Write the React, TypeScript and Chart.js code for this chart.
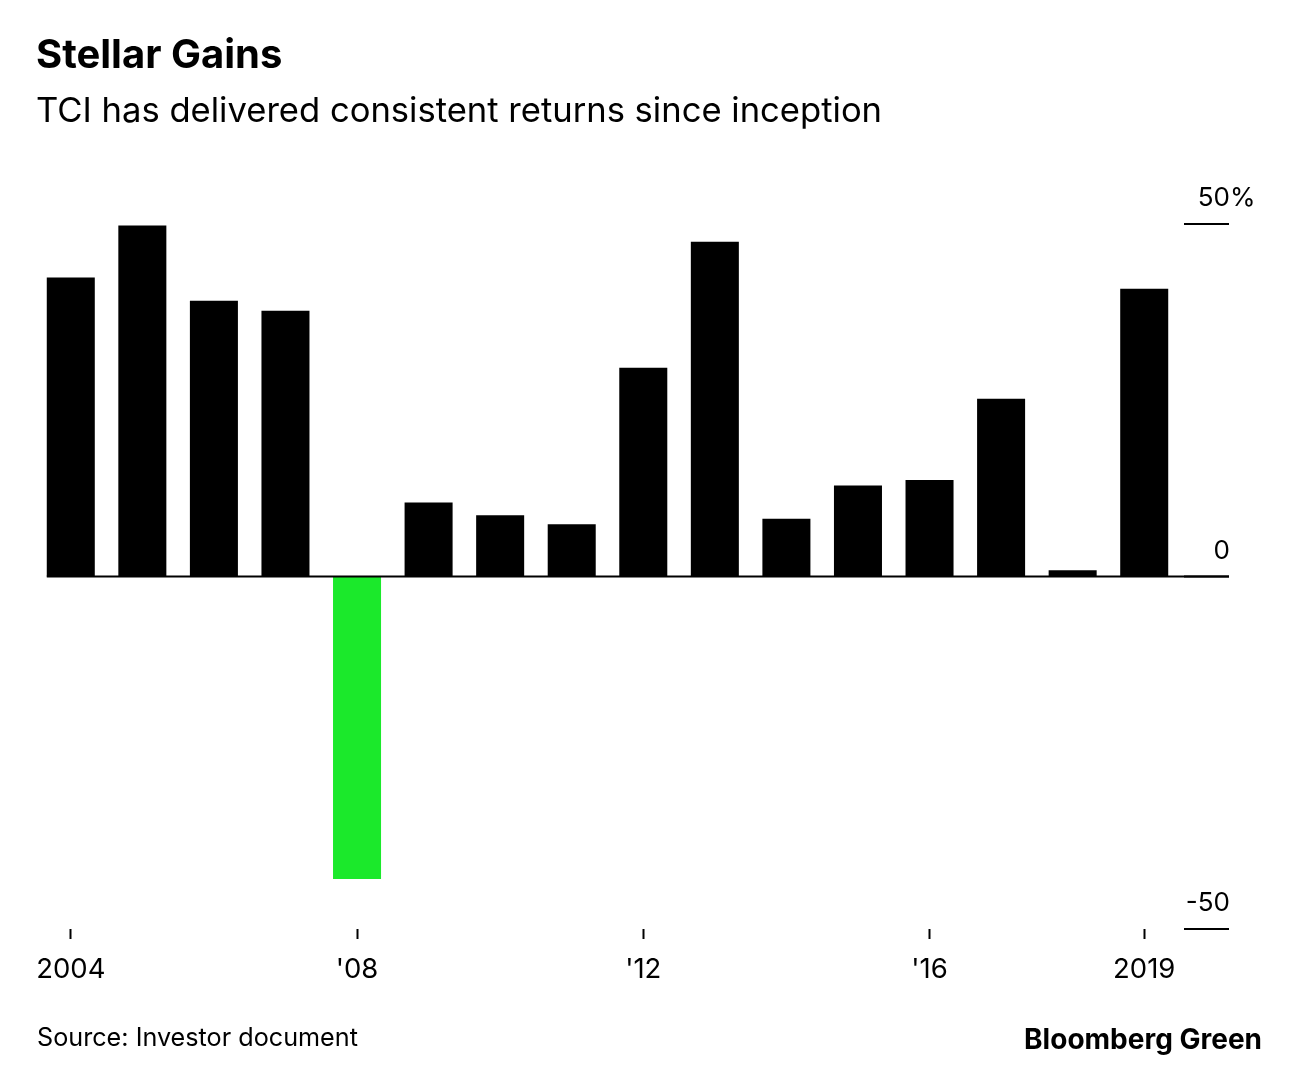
import React, { useEffect, useRef } from 'react';
import { Chart, registerables } from 'chart.js';

Chart.register(...registerables);

// ---- data ----
const years: string[] = [
  '2004', '2005', '2006', '2007', '2008', '2009', '2010', '2011',
  '2012', '2013', '2014', '2015', '2016', '2017', '2018', '2019',
];
const annualReturns: number[] = [
  42.4, 49.8, 39.1, 37.7, -42.9, 10.5, 8.7, 7.4,
  29.6, 47.5, 8.2, 12.9, 13.7, 25.2, 0.9, 40.8,
];
const xTickLabels: Record<string, string> = {
  '2004': '2004',
  '2008': "'08",
  '2012': "'12",
  '2016': "'16",
  '2019': '2019',
};
const yTickValues: number[] = [50, 0, -50];
const yTickNumbers: string[] = ['50', '0', '-50'];
const yTickSuffixes: string[] = ['%', '', ''];

const FONT = 'Inter, "Liberation Sans", Arial, sans-serif';
const POS_COLOR = '#000000';
const NEG_COLOR = '#1BE92B';

const axisPlugin = {
  id: 'bbgAxis',
  afterDatasetsDraw(chart: any) {
    const { ctx, chartArea, scales } = chart;
    const y = scales.y;
    const meta = chart.getDatasetMeta(0);
    const first: any = meta.data[0];
    const left = first.x - first.width / 2;
    const tickStart = chartArea.right + 4;
    const tickEnd = chartArea.right + 49;
    ctx.save();
    ctx.fillStyle = '#000';
    // zero baseline
    const y0 = y.getPixelForValue(0);
    ctx.fillRect(left, y0 - 1, tickEnd - left, 2);
    // right-hand ticks and labels
    ctx.font = `26px ${FONT}`;
    ctx.textBaseline = 'alphabetic';
    yTickValues.forEach((v, i) => {
      const py = y.getPixelForValue(v);
      ctx.fillRect(tickStart, py - 1, tickEnd - tickStart, 2);
      ctx.textAlign = 'right';
      ctx.fillText(yTickNumbers[i], tickEnd + 1, py - 18);
      if (yTickSuffixes[i]) {
        ctx.textAlign = 'left';
        ctx.fillText(yTickSuffixes[i], tickEnd + 1, py - 18);
      }
    });
    ctx.restore();
  },
};

export default function App() {
  const canvasRef = useRef<HTMLCanvasElement | null>(null);

  useEffect(() => {
    const canvas = canvasRef.current;
    if (!canvas) return;
    const chart = new Chart(canvas, {
      type: 'bar',
      data: {
        labels: years,
        datasets: [
          {
            data: annualReturns,
            backgroundColor: annualReturns.map((v) => (v < 0 ? NEG_COLOR : POS_COLOR)),
            borderWidth: 0,
            barPercentage: 1,
            categoryPercentage: 0.671,
          },
        ],
      },
      options: {
        responsive: false,
        animation: false,
        devicePixelRatio: 1,
        layout: { padding: { left: 35, right: 111, top: 224, bottom: 68 } },
        plugins: {
          legend: { display: false },
          tooltip: { enabled: false },
          title: { display: false },
        },
        scales: {
          x: {
            offset: true,
            border: { display: false },
            grid: {
              drawOnChartArea: false,
              drawTicks: true,
              offset: false,
              tickLength: 10,
              tickWidth: 2,
              tickColor: (c: any) =>
                c.tick && xTickLabels[years[c.index]] ? '#000' : 'rgba(0,0,0,0)',
            },
            ticks: {
              autoSkip: false,
              maxRotation: 0,
              minRotation: 0,
              padding: 14,
              color: '#000',
              font: { family: FONT, size: 27.5 },
              callback: (_v: any, i: number) => xTickLabels[years[i]] ?? '',
            },
          },
          y: {
            display: false,
            min: -50,
            max: 50,
          },
        },
      },
      plugins: [axisPlugin],
    });
    return () => chart.destroy();
  }, []);

  const base: React.CSSProperties = {
    position: 'absolute',
    margin: 0,
    color: '#000',
    fontFamily: FONT,
    whiteSpace: 'nowrap',
  };

  return (
    <div
      style={{
        position: 'absolute',
        left: 0,
        top: 0,
        width: 1291,
        height: 1068,
        background: '#fff',
        overflow: 'hidden',
      }}
    >
      <canvas
        ref={canvasRef}
        width={1291}
        height={1068}
        style={{ position: 'absolute', left: 0, top: 0, width: 1291, height: 1068 }}
      />
      <div style={{ ...base, left: 36, top: 34, fontSize: 40, lineHeight: '40px', fontWeight: 700 }}>
        Stellar Gains
      </div>
      <div style={{ ...base, left: 36, top: 92, fontSize: 34.6, lineHeight: '35px', fontWeight: 400 }}>
        TCI has delivered consistent returns since inception
      </div>
      <div style={{ ...base, left: 37, top: 1024, fontSize: 25.2, lineHeight: '26px', fontWeight: 400 }}>
        Source: Investor document
      </div>
      <div style={{ ...base, right: 29, top: 1025, fontSize: 28, lineHeight: '28px', fontWeight: 700 }}>
        Bloomberg Green
      </div>
    </div>
  );
}
